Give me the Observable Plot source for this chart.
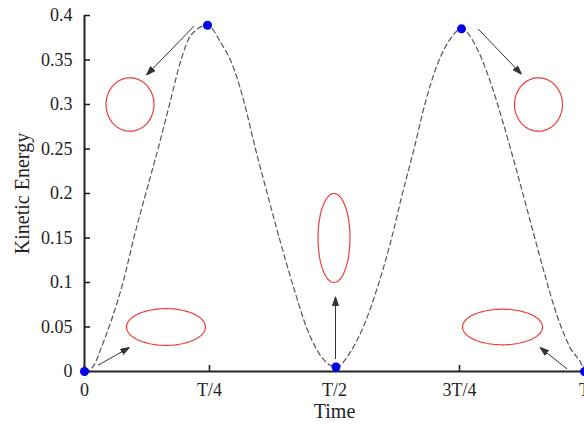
<!DOCTYPE html>
<html>
<head>
<meta charset="utf-8">
<script src="https://cdn.jsdelivr.net/npm/d3@7"></script>
<script src="https://cdn.jsdelivr.net/npm/@observablehq/plot@0.6"></script>
<style>
  body { margin: 0; background: #fff; }
</style>
</head>
<body>
<div id="chart"></div>
<script>
// Kinetic energy of an oscillating drop over one period T (time in units of T)
const curveTime = [0, 0.013, 0.02, 0.033, 0.057, 0.077, 0.10, 0.123, 0.147, 0.17, 0.193, 0.213, 0.246,
  0.272, 0.299, 0.319, 0.342, 0.365, 0.392, 0.419, 0.445, 0.472, 0.503,
  0.532, 0.559, 0.585, 0.612, 0.635, 0.659, 0.682, 0.705, 0.732, 0.754,
  0.785, 0.812, 0.839, 0.865, 0.892, 0.919, 0.945, 0.972, 0.995, 1.0];
const curveEnergy = [0, 0.003, 0.008, 0.026, 0.063, 0.10, 0.153, 0.201, 0.25, 0.30, 0.35, 0.378, 0.389,
  0.370, 0.340, 0.303, 0.25, 0.201, 0.145, 0.093, 0.048, 0.018, 0.005,
  0.022, 0.052, 0.093, 0.145, 0.198, 0.25, 0.303, 0.344, 0.374, 0.385,
  0.363, 0.325, 0.276, 0.224, 0.168, 0.112, 0.063, 0.026, 0.007, 0];

// Extremes of the kinetic energy (blue markers)
const extremeTime = [0, 0.246, 0.503, 0.754, 1];
const extremeEnergy = [0, 0.389, 0.005, 0.385, 0];

// Drop shapes drawn as outlines: centre and half-axes in chart units
const shapeTime = [0.091, 0.163, 0.499, 0.836, 0.908];
const shapeEnergy = [0.300, 0.050, 0.150, 0.050, 0.300];
const shapeHalfTime = [0.048, 0.079, 0.032, 0.080, 0.048];
const shapeHalfEnergy = [0.030, 0.0206, 0.050, 0.020, 0.030];

// Arrows linking each extreme to its drop shape
const arrowFromTime = [0.219, 0.027, 0.502, 0.787, 0.965];
const arrowFromEnergy = [0.388, 0.007, 0.014, 0.385, 0.003];
const arrowToTime = [0.124, 0.090, 0.502, 0.874, 0.911];
const arrowToEnergy = [0.333, 0.027, 0.084, 0.334, 0.027];

// Axis ticks and labels
const xTicks = [0, 0.25, 0.5, 0.75, 1];
const xTickLabels = ["0", "T/4", "T/2", "3T/4", "T"];
const yTicks = [0, 0.05, 0.1, 0.15, 0.2, 0.25, 0.3, 0.35, 0.4];
const yTickLabels = ["0", "0.05", "0.1", "0.15", "0.2", "0.25", "0.3", "0.35", "0.4"];
const xTitle = "Time";
const yTitle = "Kinetic Energy";

const curve = curveTime.map((t, i) => ({t, e: curveEnergy[i]}));
const extremes = extremeTime.map((t, i) => ({t, e: extremeEnergy[i]}));
const arrows = arrowFromTime.map((t, i) => ({
  t1: t, e1: arrowFromEnergy[i], t2: arrowToTime[i], e2: arrowToEnergy[i]
}));
const angles = d3.range(0, 361, 4).map(a => a * Math.PI / 180);
const outlines = shapeTime.flatMap((c, i) => angles.map(a => ({
  id: i,
  t: c + shapeHalfTime[i] * Math.cos(a),
  e: shapeEnergy[i] + shapeHalfEnergy[i] * Math.sin(a)
})));

// Solid triangular arrowhead
function filledHead(color) {
  const ns = "http://www.w3.org/2000/svg";
  const m = document.createElementNS(ns, "marker");
  m.setAttribute("viewBox", "-9 -3.5 9 7");
  m.setAttribute("markerWidth", 9);
  m.setAttribute("markerHeight", 7);
  m.setAttribute("markerUnits", "userSpaceOnUse");
  m.setAttribute("orient", "auto");
  m.setAttribute("refX", 0);
  m.setAttribute("refY", 0);
  const p = document.createElementNS(ns, "path");
  p.setAttribute("d", "M-9,-3L0,0L-9,3Z");
  p.setAttribute("fill", color);
  m.appendChild(p);
  return m;
}

function build(head) {
  return Plot.plot({
    width: 584,
    height: 424,
    marginTop: 15,
    marginBottom: 53,
    marginLeft: 84,
    marginRight: 0,
    style: {fontFamily: "'Liberation Serif', serif", fontSize: "18px", color: "#222", background: "#fff"},
    x: {domain: [0, 1]},
    y: {domain: [0, 0.4]},
    marks: [
      Plot.axisX({ticks: xTicks, tickFormat: d => xTickLabels[xTicks.indexOf(d)],
        tickSize: -6, tickPadding: 18, strokeWidth: 1.6, fontSize: 18, label: null}),
      Plot.axisY({ticks: yTicks, tickFormat: d => yTickLabels[yTicks.indexOf(d)],
        tickSize: -6, tickPadding: 18, strokeWidth: 1.6, fontSize: 18, label: null}),
      Plot.ruleY([0], {stroke: "#222", strokeWidth: 2}),
      Plot.ruleX([0], {y1: d3.min(yTicks), y2: d3.max(yTicks), stroke: "#222", strokeWidth: 2}),
      Plot.line(curve, {x: "t", y: "e", curve: "monotone-x", stroke: "#555",
        strokeWidth: 1.2, strokeDasharray: "5,3.5"}),
      Plot.line(outlines, {x: "t", y: "e", z: "id", stroke: "#f03c3c", strokeWidth: 1.2}),
      Plot.link(arrows, {x1: "t1", y1: "e1", x2: "t2", y2: "e2", stroke: "#333",
        strokeWidth: 1, markerEnd: head}),
      Plot.dot(extremes, {x: "t", y: "e", r: 4.5, fill: "#0000ee", stroke: "none"}),
      Plot.text([xTitle], {frameAnchor: "bottom", lineAnchor: "middle", textAnchor: "middle",
        dy: 40, fontSize: 20, fill: "#222"}),
      Plot.text([yTitle], {frameAnchor: "left", textAnchor: "middle", lineAnchor: "middle",
        rotate: -90, dx: -62, fontSize: 20, fill: "#222"})
    ]
  });
}

let chart;
try {
  chart = build(filledHead);
} catch (err) {
  chart = build("arrow");
}
document.getElementById("chart").append(chart);
</script>
</body>
</html>
